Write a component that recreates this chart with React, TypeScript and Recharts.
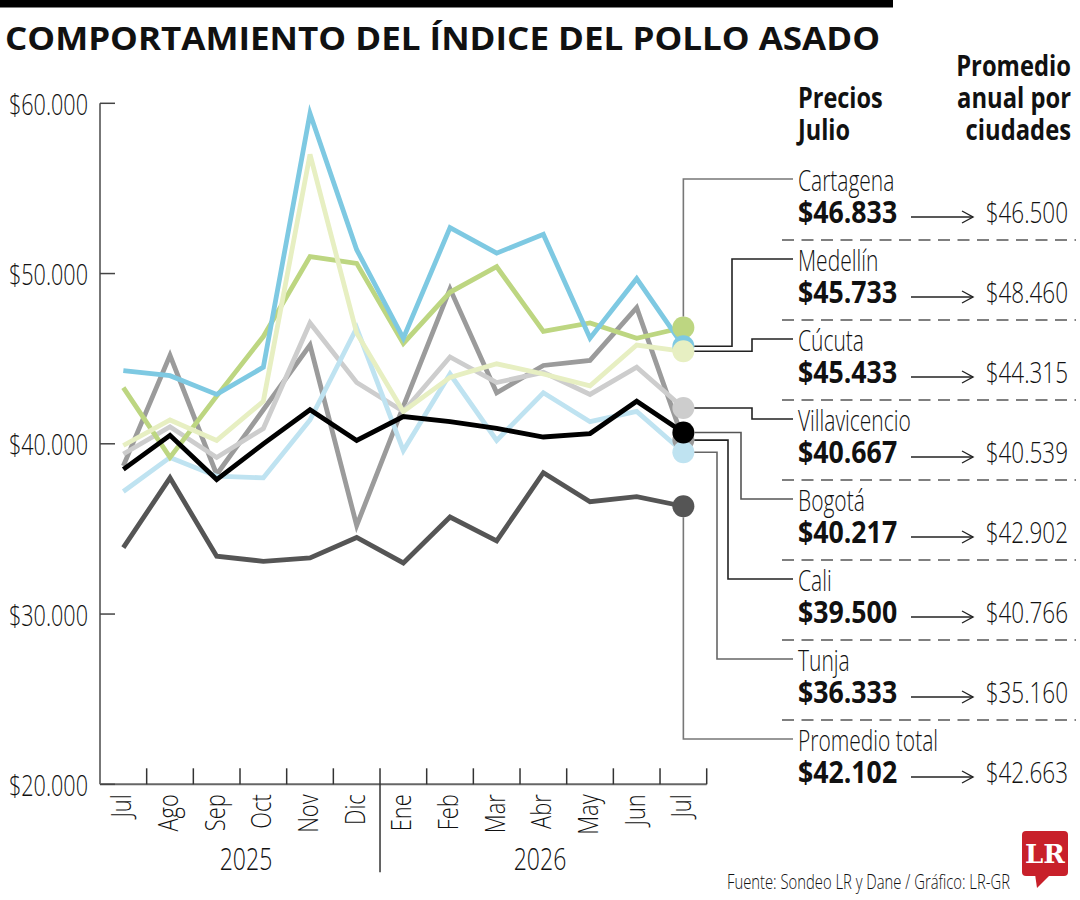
import { LineChart, Line, XAxis, YAxis } from "recharts";

const MESES = ["Jul", "Ago", "Sep", "Oct", "Nov", "Dic", "Ene", "Feb", "Mar", "Abr", "May", "Jun", "Jul"];
const ANIOS = ["2025", "2026"];

// precios mensuales por ciudad (pesos)
const CARTAGENA = [43300, 39200, 42800, 46300, 51000, 50600, 45900, 48900, 50400, 46600, 47100, 46200, 46833];
const MEDELLIN = [44300, 44000, 42900, 44500, 59400, 51400, 46200, 52700, 51200, 52300, 46200, 49700, 45733];
const CUCUTA = [39900, 41400, 40200, 42500, 57000, 46500, 41900, 43900, 44700, 44100, 43400, 45800, 45433];
const PROMEDIO = [39400, 41000, 39200, 40900, 47100, 43600, 41900, 45100, 43600, 44200, 42900, 44500, 42102];
const VILLAVICENCIO = [38500, 40500, 37900, 40000, 42000, 40200, 41600, 41300, 40900, 40400, 40600, 42500, 40667];
const BOGOTA = [38700, 45200, 38200, 42000, 45800, 35200, 42200, 49100, 43000, 44600, 44900, 48000, 40217];
const CALI = [37200, 39200, 38100, 38000, 41400, 46800, 39600, 44100, 40200, 43000, 41300, 41900, 39500];
const TUNJA = [33900, 38000, 33400, 33100, 33300, 34500, 33000, 35700, 34300, 38300, 36600, 36900, 36333];

const Y_TICKS = [20000, 30000, 40000, 50000, 60000];

const CIUDADES = ["Cartagena", "Medellín", "Cúcuta", "Villavicencio", "Bogotá", "Cali", "Tunja", "Promedio total"];
const PRECIO_JULIO = [46833, 45733, 45433, 40667, 40217, 39500, 36333, 42102];
const PROMEDIO_ANUAL = [46500, 48460, 44315, 40539, 42902, 40766, 35160, 42663];

const data = MESES.map((mes, i) => ({
  mes,
  cartagena: CARTAGENA[i],
  medellin: MEDELLIN[i],
  cucuta: CUCUTA[i],
  promedio: PROMEDIO[i],
  villavicencio: VILLAVICENCIO[i],
  bogota: BOGOTA[i],
  cali: CALI[i],
  tunja: TUNJA[i],
}));

// orden de dibujo: las ultimas quedan encima
const SERIES = [
  { key: "tunja", color: "#555555" },
  { key: "bogota", color: "#9b9b9b" },
  { key: "promedio", color: "#cdcdcd" },
  { key: "cali", color: "#bfe3f1" },
  { key: "cartagena", color: "#bdd681" },
  { key: "medellin", color: "#7ec9e2" },
  { key: "cucuta", color: "#e7efc2" },
  { key: "villavicencio", color: "#000000" },
];

// que punto final conecta con cada fila de la leyenda (asi viene en el grafico original)
const FILA_ORIGEN = ["cartagena", "medellin", "cucuta", "promedio", "villavicencio", "bogota", "cali", "tunja"];
const FILA_CODO = [0, 732, 752, 752, 741, 728, 717, 0];
const FILA_COLOR = ["#777", "#222", "#222", "#222", "#555", "#222", "#666", "#777"];

const PLOT = { left: 100, top: 103.3, right: 706.7, bottom: 784.3 };
const STEP = (PLOT.right - PLOT.left) / MESES.length;
const DOMAIN: [number, number] = [20000, 60000];
const FONT = "'Open Sans', sans-serif";

const yPix = (v: number) => PLOT.top + ((DOMAIN[1] - v) / (DOMAIN[1] - DOMAIN[0])) * (PLOT.bottom - PLOT.top);
const fmt = (v: number) => "$" + String(v).replace(/\B(?=(\d{3})+(?!\d))/g, ".");

function T({ x, y, size, bold, sx = 1, anchor = "start", fill = "#111", len, children }: any) {
  return (
    <text
      transform={`translate(${x} ${y}) scale(${sx} 1)`}
      fontFamily={FONT}
      fontSize={size}
      fontWeight={bold ? 700 : 300}
      textAnchor={anchor}
      fill={fill}
      textLength={len}
      lengthAdjust={len ? "spacingAndGlyphs" : undefined}
    >
      {children}
    </text>
  );
}

const MonthTick = (props: any) => {
  const { x, y, payload, index } = props;
  const half = STEP / 2;
  const yearStart = MESES[index] === "Ene";
  return (
    <g>
      {index > 0 && (
        <line x1={x - half} x2={x - half} y1={y - 16} y2={yearStart ? y + 88 : y} stroke="#333" strokeWidth={1.5} />
      )}
      {index === MESES.length - 1 && (
        <line x1={x + half} x2={x + half} y1={y - 16} y2={y} stroke="#333" strokeWidth={1.5} />
      )}
      <text
        transform={`translate(${x + 8} ${y + 10}) rotate(-90) scale(0.78 1)`}
        textAnchor="end"
        fontFamily={FONT}
        fontWeight={300}
        fontSize={28}
        fill="#111"
      >
        {payload.value}
      </text>
    </g>
  );
};

const PesoTick = (props: any) => {
  const { x, y, payload } = props;
  return (
    <g>
      <line x1={x} x2={x + 15} y1={y} y2={y} stroke="#444" strokeWidth={1.5} />
      <T x={x - 12} y={y + 11.5} size={30} sx={0.72} anchor="end">
        {fmt(payload.value)}
      </T>
    </g>
  );
};

const lastDot = (color: string) => (p: any) =>
  p.index === MESES.length - 1 ? (
    <circle key={`d-${p.index}`} cx={p.cx} cy={p.cy} r={11} fill={color} />
  ) : (
    <g key={`d-${p.index}`} />
  );

export default function App() {
  const dotX = PLOT.left + STEP / 2 + (MESES.length - 1) * STEP;
  const lastVal: Record<string, number> = data[data.length - 1] as any;

  return (
    <div style={{ position: "absolute", left: 0, top: 0, width: 1080, height: 900, background: "#fff" }}>
      <LineChart
        width={1080}
        height={900}
        data={data}
        margin={{ top: PLOT.top, right: 1080 - PLOT.right, bottom: 900 - PLOT.bottom - 100, left: 8 }}
      >
        <XAxis
          dataKey="mes"
          interval={0}
          height={100}
          padding={{ left: STEP / 2, right: STEP / 2 }}
          axisLine={{ stroke: "#666", strokeWidth: 2 }}
          tickLine={false}
          tickSize={0}
          tickMargin={0}
          tick={(p: any) => <MonthTick {...p} />}
        />
        <YAxis
          domain={DOMAIN}
          ticks={Y_TICKS}
          width={92}
          axisLine={{ stroke: "#777", strokeWidth: 2 }}
          tickLine={false}
          tickSize={0}
          tickMargin={0}
          tick={(p: any) => <PesoTick {...p} />}
        />
        {SERIES.map((s) => (
          <Line
            key={s.key}
            type="linear"
            dataKey={s.key}
            stroke={s.color}
            strokeWidth={4.8}
            dot={lastDot(s.color)}
            activeDot={false}
            isAnimationActive={false}
          />
        ))}
      </LineChart>

      <svg width={1080} height={900} style={{ position: "absolute", left: 0, top: 0, pointerEvents: "none" }}>
        <rect x={0} y={0} width={893} height={7.5} fill="#000" />
        <T x={5} y={50} size={33} bold len={875}>
          COMPORTAMIENTO DEL ÍNDICE DEL POLLO ASADO
        </T>

        <T x={798} y={108} size={29} bold sx={0.81}>Precios</T>
        <T x={798} y={140} size={29} bold sx={0.81}>Julio</T>
        <T x={1071} y={76} size={29} bold sx={0.82} anchor="end">Promedio</T>
        <T x={1071} y={108} size={29} bold sx={0.82} anchor="end">anual por</T>
        <T x={1071} y={140} size={29} bold sx={0.82} anchor="end">ciudades</T>

        {CIUDADES.map((c, i) => {
          const ny = 191 + 80 * i;
          const vy = ny + 31.5;
          const ry = ny - 12;
          const src = lastVal[FILA_ORIGEN[i]];
          const dy = yPix(src);
          let d: string;
          if (i === 0) d = `M${dotX} ${dy - 11} V${ry} H793`;
          else if (i === CIUDADES.length - 1) d = `M${dotX} ${dy + 11} V${ry} H793`;
          else d = `M${dotX + 11} ${dy} H${FILA_CODO[i]} V${ry} H793`;
          const ay = vy - 5.5;
          return (
            <g key={c}>
              <path d={d} fill="none" stroke={FILA_COLOR[i]} strokeWidth={1.6} />
              <T x={798} y={ny} size={30} sx={0.7}>{c}</T>
              <T x={798} y={vy} size={30} bold sx={0.89}>{fmt(PRECIO_JULIO[i])}</T>
              <line x1={911} x2={973} y1={ay} y2={ay} stroke="#222" strokeWidth={1.4} />
              <polyline points={`962,${ay - 6} 973,${ay} 962,${ay + 6}`} fill="none" stroke="#222" strokeWidth={1.4} />
              <T x={1068} y={vy} size={30} sx={0.75} anchor="end">{fmt(PROMEDIO_ANUAL[i])}</T>
              {i < CIUDADES.length - 1 && (
                <line x1={782} x2={1076} y1={ny + 49} y2={ny + 49} stroke="#555" strokeWidth={1.5} strokeDasharray="12 7.5" />
              )}
            </g>
          );
        })}

        <T x={246} y={870} size={32} sx={0.72} anchor="middle">{ANIOS[0]}</T>
        <T x={540} y={870} size={32} sx={0.72} anchor="middle">{ANIOS[1]}</T>

        <T x={727} y={889} size={21} len={283}>Fuente: Sondeo LR y Dane / Gráfico: LR-GR</T>

        <rect x={1022} y={831} width={46} height={45} rx={4} fill="#c8202a" />
        <path d="M1035 874 L1037 888 L1051 874 Z" fill="#c8202a" />
        <text x={1045} y={863} textAnchor="middle" fontFamily="'DejaVu Serif', serif" fontWeight={700} fontSize={26} fill="#fff">
          LR
        </text>
      </svg>
    </div>
  );
}
